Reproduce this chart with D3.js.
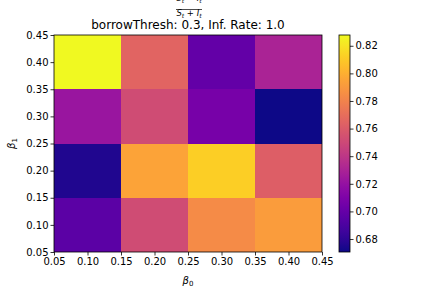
<!DOCTYPE html>
<html>
<head>
<meta charset="utf-8">
<script src="https://cdn.jsdelivr.net/npm/d3@7"></script>
<style>
  body { margin: 0; background: #fff; }
  text { font-family: "DejaVu Sans", sans-serif; fill: #000; }
</style>
</head>
<body>
<div id="chart"></div>
<script>
const beta0 = [0.1, 0.2, 0.3, 0.4];
const beta1 = [0.1, 0.2, 0.3, 0.4];
// values[row][col], row = beta1 index, col = beta0 index
const values = [
  [0.696, 0.752, 0.784, 0.792],
  [0.675, 0.795, 0.812, 0.762],
  [0.722, 0.752, 0.707, 0.6706],
  [0.8278, 0.765, 0.699, 0.730]
];
const axisTicks = [0.05, 0.10, 0.15, 0.20, 0.25, 0.30, 0.35, 0.40, 0.45];
const cbarTicks = [0.68, 0.70, 0.72, 0.74, 0.76, 0.78, 0.80, 0.82];

const svgWidth = 432, svgHeight = 288;
const margin = { top: 35, right: 110, bottom: 36, left: 54 };
const width = svgWidth - margin.left - margin.right;
const height = svgHeight - margin.top - margin.bottom;

const svg = d3.select("#chart").append("svg")
  .attr("width", svgWidth).attr("height", svgHeight);

const g = svg.append("g")
  .attr("transform", `translate(${margin.left}, ${margin.top})`);

const x = d3.scaleLinear().domain([0.05, 0.45]).range([0, width]);
const y = d3.scaleLinear().domain([0.05, 0.45]).range([height, 0]);

const flat = values.flat();
const [vmin, vmax] = d3.extent(flat);
const color = d3.scaleSequential(d3.interpolatePlasma).domain([vmin, vmax]);

const cells = [];
values.forEach((row, i) => row.forEach((v, j) => cells.push({ b0: beta0[j], b1: beta1[i], v })));

g.selectAll("rect.cell").data(cells).enter().append("rect")
  .attr("class", "cell")
  .attr("x", d => x(d.b0 - 0.05))
  .attr("y", d => y(d.b1 + 0.05))
  .attr("width", d => x(d.b0 + 0.05) - x(d.b0 - 0.05))
  .attr("height", d => y(d.b1 - 0.05) - y(d.b1 + 0.05))
  .attr("fill", d => color(d.v))
  .attr("shape-rendering", "crispEdges");

const fmt = d3.format(".2f");
const xAxis = g.append("g").attr("transform", `translate(0, ${height})`)
  .call(d3.axisBottom(x).tickValues(axisTicks).tickFormat(fmt).tickSize(3.5).tickPadding(2));
const yAxis = g.append("g")
  .call(d3.axisLeft(y).tickValues(axisTicks).tickFormat(fmt).tickSize(3.5).tickPadding(2));
[xAxis, yAxis].forEach(a => {
  a.selectAll("text").style("font-size", "10px").attr("fill", "#000");
  a.select(".domain").remove();
  a.selectAll("line").attr("stroke", "#000").attr("stroke-width", 0.8);
});

g.append("rect").attr("width", width).attr("height", height)
  .attr("fill", "none").attr("stroke", "#000").attr("stroke-width", 0.8);

// axis labels
const xl = g.append("text").attr("x", width / 2).attr("y", height + 32)
  .attr("text-anchor", "middle").style("font-size", "10px");
xl.append("tspan").style("font-style", "italic").text("β");
xl.append("tspan").attr("dy", 2).style("font-size", "7px").text("0");

const yl = g.append("text")
  .attr("transform", `translate(${-39}, ${height / 2}) rotate(-90)`)
  .attr("text-anchor", "middle").style("font-size", "10px");
yl.append("tspan").style("font-style", "italic").text("β");
yl.append("tspan").attr("dy", 2).style("font-size", "7px").text("1");

// title
g.append("text").attr("x", width / 2).attr("y", -6)
  .attr("text-anchor", "middle").style("font-size", "12px")
  .text("borrowThresh: 0.3, Inf. Rate: 1.0");

// fraction above title (numerator runs off the top, as in the original)
const fx = width / 2 + 1;
function frac(yPos, op) {
  const t = g.append("text").attr("x", fx).attr("y", yPos)
    .attr("text-anchor", "middle").style("font-size", "8.5px");
  t.append("tspan").style("font-style", "italic").text("S");
  t.append("tspan").attr("dy", 2).style("font-size", "6px").style("font-style", "italic").text("t");
  t.append("tspan").attr("dy", -2).text(` ${op} `);
  t.append("tspan").style("font-style", "italic").text("I");
  t.append("tspan").attr("dy", 2).style("font-size", "6px").style("font-style", "italic").text("t");
}
frac(-34, "−");
g.append("line").attr("x1", fx - 13).attr("x2", fx + 13)
  .attr("y1", -25.5).attr("y2", -25.5).attr("stroke", "#000").attr("stroke-width", 0.7);
frac(-19.5, "+");

// colorbar
const cbX = 339, cbW = 11;
const cbScale = d3.scaleLinear().domain([vmin, vmax]).range([margin.top + height, margin.top]);
const defs = svg.append("defs");
const grad = defs.append("linearGradient").attr("id", "cbgrad")
  .attr("x1", 0).attr("y1", 1).attr("x2", 0).attr("y2", 0);
d3.range(0, 1.0001, 0.05).forEach(t => {
  grad.append("stop").attr("offset", t).attr("stop-color", d3.interpolatePlasma(t));
});
svg.append("rect").attr("x", cbX).attr("y", margin.top).attr("width", cbW).attr("height", height)
  .attr("fill", "url(#cbgrad)").attr("stroke", "#000").attr("stroke-width", 0.8);
const cbAxis = svg.append("g").attr("transform", `translate(${cbX + cbW}, 0)`)
  .call(d3.axisRight(cbScale).tickValues(cbarTicks).tickFormat(fmt).tickSize(3.5).tickPadding(2));
cbAxis.select(".domain").remove();
cbAxis.selectAll("text").style("font-size", "10px").attr("fill", "#000");
cbAxis.selectAll("line").attr("stroke", "#000").attr("stroke-width", 0.8);
</script>
</body>
</html>
